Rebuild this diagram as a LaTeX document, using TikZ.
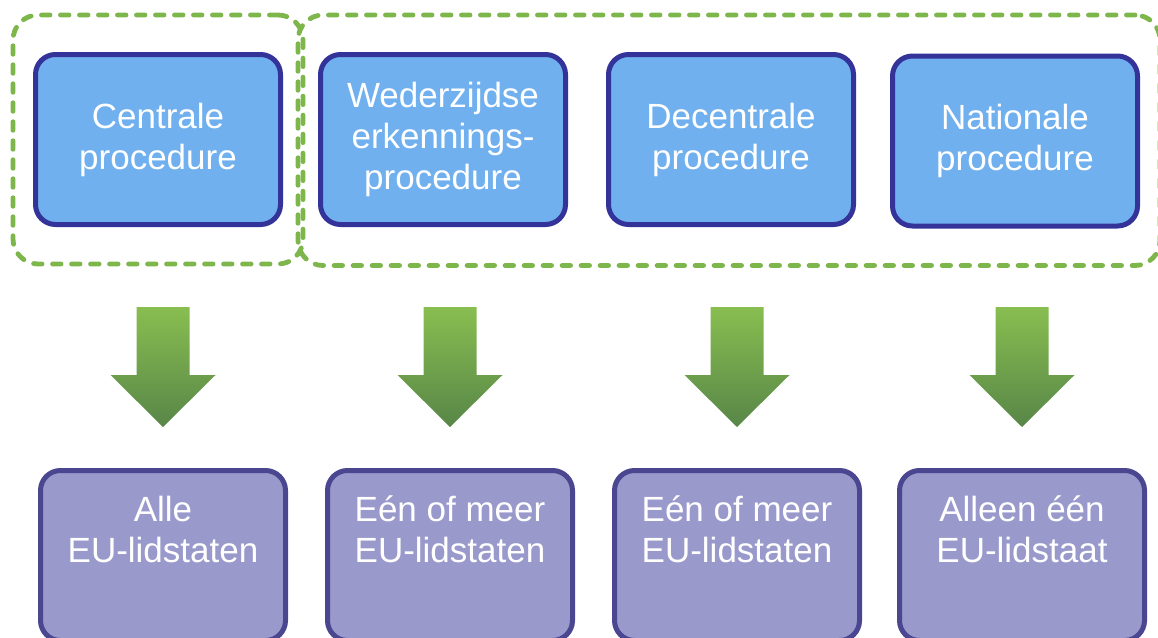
\documentclass[tikz,border=0pt]{standalone}
\usepackage{fontspec}
\setmainfont{Liberation Sans}
\usetikzlibrary{fit,positioning}
\definecolor{procblue}{RGB}{112,176,238}
\definecolor{procedge}{RGB}{51,51,153}
\definecolor{lidfill}{RGB}{153,153,204}
\definecolor{lidedge}{RGB}{74,70,143}
\definecolor{grpgreen}{RGB}{125,182,74}
\definecolor{arrtop}{RGB}{136,190,80}
\definecolor{arrbot}{RGB}{88,134,72}

\begin{document}
\begin{tikzpicture}[x=1pt, y=-1pt,
    procbox/.style={draw=procedge, fill=procblue, line width=5pt, rounded corners=20pt,
      minimum width=245pt, minimum height=170pt, text=white, align=center,
      font=\fontsize{35}{41}\selectfont},
    lidbox/.style={draw=lidedge, fill=lidfill, line width=5pt, rounded corners=20pt,
      minimum width=245pt, minimum height=170pt},
    lidtext/.style={text=white, align=center, inner sep=0pt, anchor=north,
      font=\fontsize{35}{41}\selectfont},
    grp/.style={draw=grpgreen, line width=4.8pt, rounded corners=25pt, line cap=round,
      dash pattern=on 8.5pt off 10.5pt, inner xsep=20pt, inner ysep=37pt},
    arrfill/.style={top color=arrtop, bottom color=arrbot}]
  \path[use as bounding box, clip] (0,0) rectangle (1158,637);
  %--- Procedures
  \node[procbox] (cen) at (158,139.5) {Centrale\\procedure};
  \node[procbox] (wed) at (443,139.5) {Wederzijdse\\erkennings-\\procedure};
  \node[procbox] (dec) at (731,139.5) {Decentrale\\procedure};
  \node[procbox] (nat) at (1015,141)  {Nationale\\procedure};
  %--- Groups
  \node[grp, fit=(cen)] (grpcen) {};
  \node[grp, fit=(wed) (nat)] (grpnat) {};
  %--- Member states
  \node[lidbox] (alle)  at (163,555.5) {};
  \node[lidbox] (meer1) at (450,555.5) {};
  \node[lidbox] (meer2) at (737,555.5) {};
  \node[lidbox] (een)   at (1022,555.5) {};
  \node[lidtext, below=28pt of alle.north]  (alletxt)  {Alle\\EU-lidstaten};
  \node[lidtext, below=28pt of meer1.north] (meer1txt) {Eén of meer\\EU-lidstaten};
  \node[lidtext, below=28pt of meer2.north] (meer2txt) {Eén of meer\\EU-lidstaten};
  \node[lidtext, below=28pt of een.north]   (eentxt)   {Alleen één\\EU-lidstaat};
  %--- Block arrows
  \foreach \b in {alle,meer1,meer2,een}
    \shade[arrfill] ([yshift=41pt]\b.north) -- ++(-52.5,-52) -- ++(26,0) -- ++(0,-68)
      -- ++(53,0) -- ++(0,68) -- ++(26,0) -- cycle;
\end{tikzpicture}
\end{document}
